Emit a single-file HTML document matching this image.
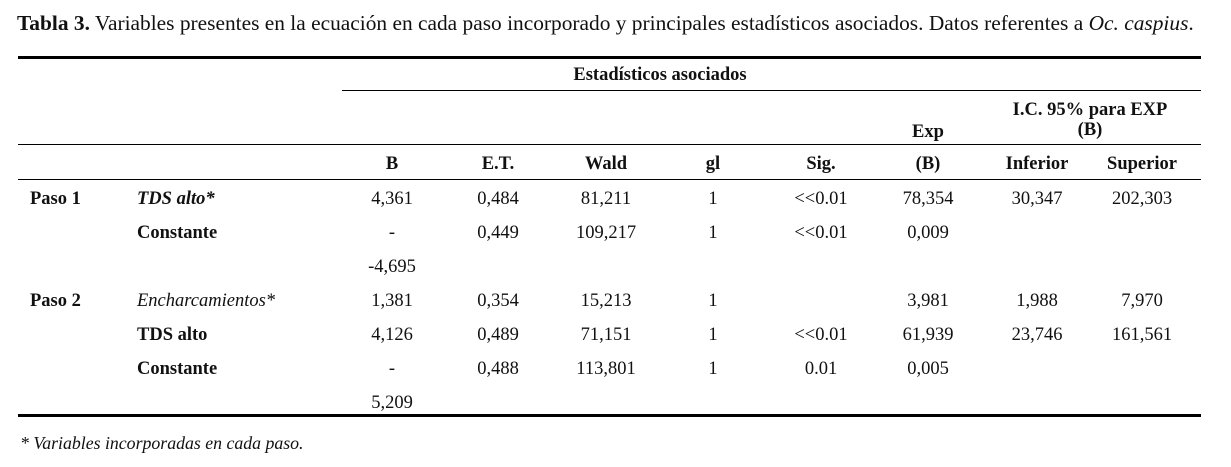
<!DOCTYPE html>
<html><head><meta charset="utf-8"><style>
body{margin:0;width:1231px;height:467px;background:#fff;position:relative;font-family:"Liberation Serif",serif;color:#111;overflow:hidden}
.t{position:absolute;white-space:nowrap;font-size:18.5px;line-height:16px}
.c{transform:translateX(-50%)}
.b{font-weight:bold}
.i{font-style:italic}
.l{position:absolute;background:#000}
</style></head><body>
<div class="t" style="left:17px;top:13px;font-size:21.4px;line-height:20px"><b>Tabla 3.</b> Variables presentes en la ecuación en cada paso incorporado y principales estadísticos asociados. Datos referentes a <i>Oc. caspius</i>.</div>
<div class="l" style="left:18px;top:56px;width:1183px;height:3px"></div>
<div class="t b c" style="left:660px;top:67px">Estadísticos asociados</div>
<div class="l" style="left:342px;top:90px;width:859px;height:1px"></div>
<div class="t b c" style="left:1090px;top:102px">I.C. 95% para EXP</div>
<div class="t b c" style="left:1090px;top:122px">(B)</div>
<div class="t b c" style="left:928px;top:124px">Exp</div>
<div class="l" style="left:18px;top:144px;width:1183px;height:1px"></div>
<div class="t b c" style="left:392px;top:156px">B</div>
<div class="t b c" style="left:498px;top:156px">E.T.</div>
<div class="t b c" style="left:606px;top:156px">Wald</div>
<div class="t b c" style="left:713px;top:156px">gl</div>
<div class="t b c" style="left:821px;top:156px">Sig.</div>
<div class="t b c" style="left:928px;top:156px">(B)</div>
<div class="t b c" style="left:1037px;top:156px">Inferior</div>
<div class="t b c" style="left:1142px;top:156px">Superior</div>
<div class="l" style="left:18px;top:179px;width:1183px;height:1px"></div>

<div class="t b" style="left:30px;top:191px">Paso 1</div>
<div class="t b i" style="left:137px;top:191px">TDS alto*</div>
<div class="t c" style="left:392px;top:191px">4,361</div>
<div class="t c" style="left:498px;top:191px">0,484</div>
<div class="t c" style="left:606px;top:191px">81,211</div>
<div class="t c" style="left:713px;top:191px">1</div>
<div class="t c" style="left:821px;top:191px">&lt;&lt;0.01</div>
<div class="t c" style="left:928px;top:191px">78,354</div>
<div class="t c" style="left:1037px;top:191px">30,347</div>
<div class="t c" style="left:1142px;top:191px">202,303</div>

<div class="t b" style="left:137px;top:225px">Constante</div>
<div class="t c" style="left:392px;top:225px">-</div>
<div class="t c" style="left:498px;top:225px">0,449</div>
<div class="t c" style="left:606px;top:225px">109,217</div>
<div class="t c" style="left:713px;top:225px">1</div>
<div class="t c" style="left:821px;top:225px">&lt;&lt;0.01</div>
<div class="t c" style="left:928px;top:225px">0,009</div>
<div class="t c" style="left:392px;top:259px">-4,695</div>

<div class="t b" style="left:30px;top:293px">Paso 2</div>
<div class="t i" style="left:137px;top:293px">Encharcamientos*</div>
<div class="t c" style="left:392px;top:293px">1,381</div>
<div class="t c" style="left:498px;top:293px">0,354</div>
<div class="t c" style="left:606px;top:293px">15,213</div>
<div class="t c" style="left:713px;top:293px">1</div>
<div class="t c" style="left:928px;top:293px">3,981</div>
<div class="t c" style="left:1037px;top:293px">1,988</div>
<div class="t c" style="left:1142px;top:293px">7,970</div>

<div class="t b" style="left:137px;top:327px">TDS alto</div>
<div class="t c" style="left:392px;top:327px">4,126</div>
<div class="t c" style="left:498px;top:327px">0,489</div>
<div class="t c" style="left:606px;top:327px">71,151</div>
<div class="t c" style="left:713px;top:327px">1</div>
<div class="t c" style="left:821px;top:327px">&lt;&lt;0.01</div>
<div class="t c" style="left:928px;top:327px">61,939</div>
<div class="t c" style="left:1037px;top:327px">23,746</div>
<div class="t c" style="left:1142px;top:327px">161,561</div>

<div class="t b" style="left:137px;top:361px">Constante</div>
<div class="t c" style="left:392px;top:361px">-</div>
<div class="t c" style="left:498px;top:361px">0,488</div>
<div class="t c" style="left:606px;top:361px">113,801</div>
<div class="t c" style="left:713px;top:361px">1</div>
<div class="t c" style="left:821px;top:361px">0.01</div>
<div class="t c" style="left:928px;top:361px">0,005</div>
<div class="t c" style="left:392px;top:395px">5,209</div>

<div class="l" style="left:18px;top:414px;width:1183px;height:3px"></div>
<div class="t i" style="left:20px;top:435px;font-size:17.8px">* Variables incorporadas en cada paso.</div>
</body></html>
